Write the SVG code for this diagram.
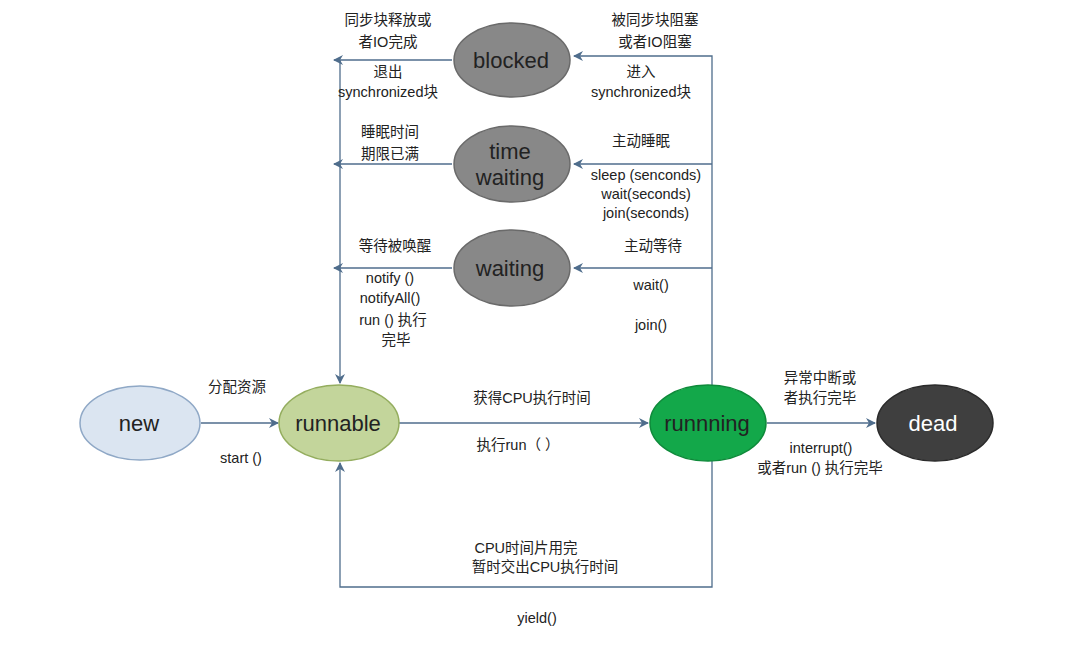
<svg xmlns="http://www.w3.org/2000/svg" width="1081" height="649" viewBox="0 0 1081 649">
<style>
.lbl{font-family:"Liberation Sans","Noto Sans CJK SC",sans-serif;font-size:14.5px;fill:#222;text-anchor:middle}
.node{font-family:"Liberation Sans","Noto Sans CJK SC",sans-serif;font-size:22px;text-anchor:middle}
.ln{fill:none;stroke:#4f6d8c;stroke-width:1.3}
.gray{fill:#888;stroke:#6a6a6a;stroke-width:1.5}
</style>
<defs>
<marker id="ah" viewBox="0 0 10 10" refX="9" refY="5" markerWidth="10" markerHeight="10" markerUnits="userSpaceOnUse" orient="auto">
<path d="M0,0 L10,5 L0,10 L3,5 Z" fill="#4f6d8c"/>
</marker>
</defs>
<rect width="1081" height="649" fill="#fff"/>
<g id="connectors">
<line class="ln" x1="201" y1="423" x2="278" y2="423" marker-end="url(#ah)"/>
<line class="ln" x1="399" y1="423" x2="648" y2="423" marker-end="url(#ah)"/>
<line class="ln" x1="767" y1="423" x2="875" y2="423" marker-end="url(#ah)"/>
<polyline class="ln" points="712,385 712,56 574,56" marker-end="url(#ah)"/>
<line class="ln" x1="712" y1="164" x2="574" y2="164" marker-end="url(#ah)"/>
<line class="ln" x1="712" y1="268" x2="574" y2="268" marker-end="url(#ah)"/>
<line class="ln" x1="452" y1="60" x2="334" y2="60" marker-end="url(#ah)"/>
<line class="ln" x1="452" y1="164" x2="334" y2="164" marker-end="url(#ah)"/>
<line class="ln" x1="452" y1="268" x2="334" y2="268" marker-end="url(#ah)"/>
<line class="ln" x1="340" y1="60" x2="340" y2="383" marker-end="url(#ah)"/>
<polyline class="ln" points="712,461 712,587 340,587 340,463" marker-end="url(#ah)"/>
</g>
<g id="new"><ellipse cx="140" cy="423" rx="60" ry="37" fill="#dbe5f1" stroke="#8fa8c6" stroke-width="1.5"/><text class="node" x="139" y="431" fill="#222">new</text></g>
<g id="runnable"><ellipse cx="339" cy="423" rx="60" ry="38" fill="#c3d59b" stroke="#94ad5e" stroke-width="1.5"/><text class="node" x="338" y="431" fill="#222">runnable</text></g>
<g id="running"><ellipse cx="708" cy="423" rx="58" ry="38" fill="#13a84a" stroke="#0e8a3a" stroke-width="1.5"/><text class="node" x="707" y="431" fill="#222">runnning</text></g>
<g id="dead"><ellipse cx="935" cy="423" rx="58" ry="38" fill="#3f3f3f" stroke="#2a2a2a" stroke-width="1.5"/><text class="node" x="933" y="431" fill="#fff">dead</text></g>
<g id="blocked"><ellipse class="gray" cx="512" cy="60" rx="58" ry="37"/><text class="node" x="511" y="68" fill="#222">blocked</text></g>
<g id="timewaiting"><ellipse class="gray" cx="512" cy="164" rx="58" ry="38"/><text class="node" x="510" y="159" fill="#222">time</text><text class="node" x="510" y="185" fill="#222">waiting</text></g>
<g id="waiting"><ellipse class="gray" cx="512" cy="268" rx="58" ry="38"/><text class="node" x="510" y="276" fill="#222">waiting</text></g>
<g id="labels">
<text class="lbl" x="388" y="25">同步块释放或</text>
<text class="lbl" x="388" y="47">者IO完成</text>
<text class="lbl" x="388" y="77">退出</text>
<text class="lbl" x="388" y="97">synchronized块</text>
<text class="lbl" x="655" y="25">被同步块阻塞</text>
<text class="lbl" x="655" y="47">或者IO阻塞</text>
<text class="lbl" x="641" y="77">进入</text>
<text class="lbl" x="641" y="97">synchronized块</text>
<text class="lbl" x="390" y="137">睡眠时间</text>
<text class="lbl" x="390" y="159">期限已满</text>
<text class="lbl" x="641" y="146">主动睡眠</text>
<text class="lbl" x="646" y="180">sleep (senconds)</text>
<text class="lbl" x="646" y="199">wait(seconds)</text>
<text class="lbl" x="646" y="218">join(seconds)</text>
<text class="lbl" x="395" y="251">等待被唤醒</text>
<text class="lbl" x="390" y="283">notify ()</text>
<text class="lbl" x="390" y="303">notifyAll()</text>
<text class="lbl" x="393" y="325">run () 执行</text>
<text class="lbl" x="396" y="345">完毕</text>
<text class="lbl" x="653" y="251">主动等待</text>
<text class="lbl" x="651" y="290">wait()</text>
<text class="lbl" x="651" y="330">join()</text>
<text class="lbl" x="237" y="392">分配资源</text>
<text class="lbl" x="241" y="463">start ()</text>
<text class="lbl" x="532" y="403">获得CPU执行时间</text>
<text class="lbl" x="518" y="450">执行run（ ）</text>
<text class="lbl" x="820" y="383">异常中断或</text>
<text class="lbl" x="820" y="403">者执行完毕</text>
<text class="lbl" x="821" y="453">interrupt()</text>
<text class="lbl" x="820" y="473">或者run () 执行完毕</text>
<text class="lbl" x="526" y="553">CPU时间片用完</text>
<text class="lbl" x="545" y="572">暂时交出CPU执行时间</text>
<text class="lbl" x="537" y="623">yield()</text>
</g>
</svg>
